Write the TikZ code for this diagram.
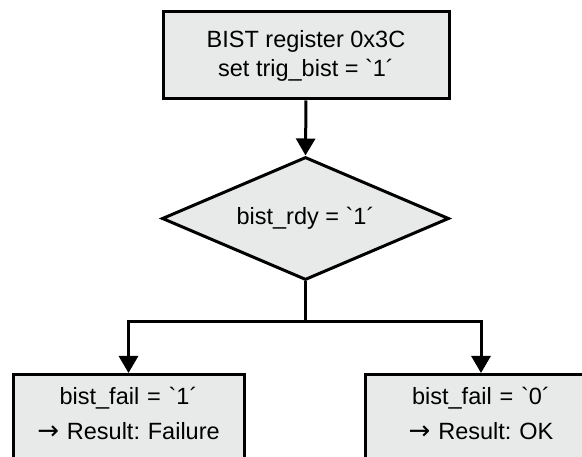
\documentclass[tikz,border=0pt]{standalone}
\usepackage{fontspec}
\newfontfamily\lab{Liberation Sans}
\newfontfamily\arrfont{DejaVu Sans}
\usetikzlibrary{shapes.geometric,arrows.meta}
\definecolor{boxgray}{RGB}{232,233,233}
\tikzset{
  box/.style={draw=black, fill=boxgray, line width=3pt, inner sep=0pt},
  dia/.style={diamond, draw=black, fill=boxgray, line width=3pt, inner sep=0pt, aspect=2.33},
  txt/.style={font=\lab\fontsize{23.5}{29}\selectfont\frenchspacing, align=center, inner sep=0pt},
  conn/.style={line width=3pt, draw=black},
  arr/.style={conn, -{Triangle[length=17pt,width=19pt]}}
}
\newcommand{\resarrow}{{\arrfont\fontsize{26}{29}\selectfont →}}
\begin{document}
\begin{tikzpicture}[x=1pt,y=-1pt]
\useasboundingbox (0,0) rectangle (582,457);
% top box
\node[box, txt, minimum width=286pt, minimum height=87pt] (trig) at (306,55.5)
  {BIST register 0x3C\\set trig\_bist = \char"60 1\char"B4};
% diamond
\node[dia, txt, minimum width=287pt, minimum height=123pt] (rdy) at (305.5,218.5)
  {bist\_rdy = \char"60 1\char"B4};
% bottom boxes
\node[box, minimum width=231pt, minimum height=110pt, anchor=north] (fail) at (128.5,373) {};
\node[box, minimum width=231pt, minimum height=110pt, anchor=north] (ok) at (481,373) {};
\node[txt, text width=231pt, anchor=north] (failtxt) at ([yshift=-14pt]fail.north)
  {bist\_fail = \char"60 1\char"B4\\[6pt]\resarrow{} Result: Failure};
\node[txt, text width=231pt, anchor=north] (oktxt) at ([yshift=-14pt]ok.north)
  {bist\_fail = \char"60 0\char"B4\\[6pt]\resarrow{} Result: OK};
% connectors
\coordinate (split) at (305.5,322);
\draw[arr] (trig.south) -- (rdy.north);
\draw[conn] (rdy.south) -- (split);
\draw[arr] (split) -| (fail.north);
\draw[arr] (split) -| (ok.north);
\end{tikzpicture}
\end{document}
